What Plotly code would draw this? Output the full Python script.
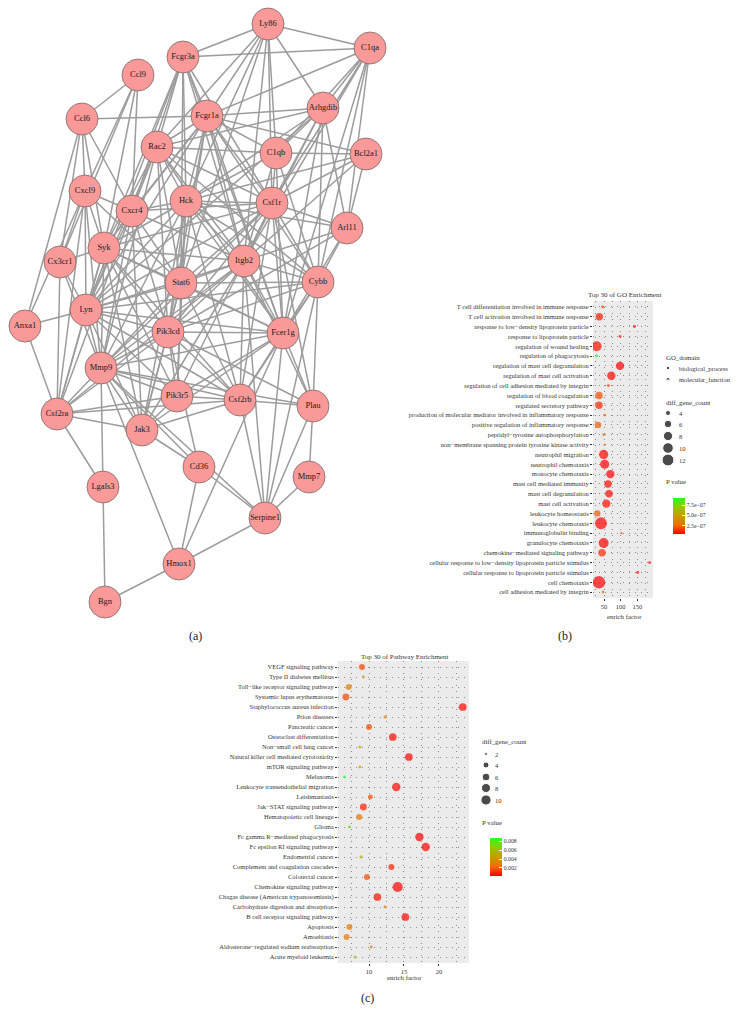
import math
import plotly.graph_objects as go

W, H = 738, 1024
FONT = "Liberation Serif, Times New Roman, serif"

# ---------------- (a) PPI network ----------------
gene_names = ["Ly86", "C1qa", "Fcgr3a", "Ccl9", "Ccl6", "Fcgr1a", "Arhgdib", "Rac2", "C1qb",
              "Bcl2a1", "Cxcl9", "Hck", "Csf1r", "Cxcr4", "Arl11", "Syk", "Cx3cr1", "Itgb2",
              "Stat6", "Cybb", "Lyn", "Anxa1", "Pik3cd", "Fcer1g", "Mmp9", "Pik3r5", "Csf2rb",
              "Plau", "Csf2ra", "Jak3", "Cd36", "Mmp7", "Lgals3", "Serpine1", "Hmox1", "Bgn"]
# layout coordinates of the network drawing (pixels)
gene_layout_x = [268, 370, 183, 138, 82, 207, 323, 157, 276, 366, 85, 186, 272, 132, 347, 104, 60, 244,
                 181, 318, 86, 25, 168, 283, 101, 177, 240, 313, 57, 142, 199, 309, 103, 265, 179, 105]
gene_layout_y = [24, 48, 57, 75, 119, 116, 108, 147, 153, 154, 191, 201, 203, 211, 228, 248, 262, 261,
                 283, 282, 310, 326, 332, 333, 368, 396, 400, 406, 414, 430, 467, 477, 487, 518, 564, 602]

interactions = [
    ("Ly86", "Fcgr3a"), ("Ly86", "C1qa"), ("Ly86", "Fcgr1a"), ("Ly86", "Rac2"), ("Ly86", "Hck"),
    ("Ly86", "C1qb"), ("Ly86", "Csf1r"), ("Ly86", "Itgb2"), ("Ly86", "Arhgdib"), ("Ly86", "Stat6"),
    ("C1qa", "Fcgr3a"), ("C1qa", "Fcgr1a"), ("C1qa", "Arhgdib"), ("C1qa", "C1qb"), ("C1qa", "Csf1r"),
    ("C1qa", "Cybb"), ("C1qa", "Arl11"), ("C1qa", "Itgb2"), ("C1qa", "Fcer1g"),
    ("Fcgr3a", "Fcgr1a"), ("Fcgr3a", "Rac2"), ("Fcgr3a", "Hck"), ("Fcgr3a", "Itgb2"), ("Fcgr3a", "Syk"),
    ("Fcgr3a", "Cxcr4"), ("Fcgr3a", "Csf1r"), ("Fcgr3a", "Fcer1g"), ("Fcgr3a", "Stat6"), ("Fcgr3a", "Lyn"),
    ("Ccl9", "Ccl6"), ("Ccl9", "Cxcl9"), ("Ccl9", "Cxcr4"), ("Ccl9", "Syk"), ("Ccl9", "Cx3cr1"),
    ("Ccl6", "Fcgr1a"), ("Ccl6", "Cxcl9"), ("Ccl6", "Cxcr4"), ("Ccl6", "Cx3cr1"), ("Ccl6", "Anxa1"), ("Ccl6", "Syk"),
    ("Fcgr1a", "Arhgdib"), ("Fcgr1a", "Bcl2a1"), ("Fcgr1a", "Rac2"), ("Fcgr1a", "Hck"), ("Fcgr1a", "Cxcr4"),
    ("Fcgr1a", "Itgb2"), ("Fcgr1a", "Fcer1g"), ("Fcgr1a", "Syk"), ("Fcgr1a", "Csf1r"), ("Fcgr1a", "Cybb"),
    ("Fcgr1a", "Lyn"), ("Fcgr1a", "Pik3cd"), ("Fcgr1a", "Stat6"), ("Fcgr1a", "C1qb"),
    ("Arhgdib", "Rac2"), ("Arhgdib", "C1qb"), ("Arhgdib", "Csf1r"), ("Arhgdib", "Arl11"), ("Arhgdib", "Cybb"),
    ("Arhgdib", "Itgb2"), ("Arhgdib", "Fcer1g"), ("Arhgdib", "Hck"), ("Arhgdib", "Lyn"),
    ("Rac2", "C1qb"), ("Rac2", "Cxcr4"), ("Rac2", "Hck"), ("Rac2", "Csf1r"), ("Rac2", "Itgb2"), ("Rac2", "Cybb"),
    ("Rac2", "Syk"), ("Rac2", "Lyn"), ("Rac2", "Pik3cd"), ("Rac2", "Stat6"), ("Rac2", "Mmp9"), ("Rac2", "Fcer1g"),
    ("C1qb", "Bcl2a1"), ("C1qb", "Hck"), ("C1qb", "Csf1r"), ("C1qb", "Itgb2"), ("C1qb", "Cybb"), ("C1qb", "Fcer1g"),
    ("Bcl2a1", "Hck"), ("Bcl2a1", "Arl11"), ("Bcl2a1", "Itgb2"), ("Bcl2a1", "Csf1r"),
    ("Cxcl9", "Cxcr4"), ("Cxcl9", "Cx3cr1"), ("Cxcl9", "Syk"), ("Cxcl9", "Lyn"), ("Cxcl9", "Anxa1"),
    ("Cxcl9", "Csf2ra"), ("Cxcl9", "Mmp9"), ("Cxcl9", "Stat6"),
    ("Hck", "Csf1r"), ("Hck", "Cxcr4"), ("Hck", "Itgb2"), ("Hck", "Fcer1g"), ("Hck", "Syk"), ("Hck", "Lyn"),
    ("Hck", "Stat6"), ("Hck", "Pik3cd"), ("Hck", "Arl11"), ("Hck", "Cybb"), ("Hck", "Pik3r5"), ("Hck", "Jak3"),
    ("Hck", "Mmp9"), ("Hck", "Csf2rb"),
    ("Csf1r", "Arl11"), ("Csf1r", "Cybb"), ("Csf1r", "Itgb2"), ("Csf1r", "Fcer1g"), ("Csf1r", "Syk"),
    ("Csf1r", "Pik3cd"), ("Csf1r", "Lyn"), ("Csf1r", "Mmp9"), ("Csf1r", "Csf2rb"), ("Csf1r", "Plau"),
    ("Csf1r", "Stat6"), ("Csf1r", "Cxcr4"),
    ("Cxcr4", "Syk"), ("Cxcr4", "Lyn"), ("Cxcr4", "Stat6"), ("Cxcr4", "Pik3cd"), ("Cxcr4", "Mmp9"),
    ("Cxcr4", "Jak3"), ("Cxcr4", "Itgb2"), ("Cxcr4", "Csf2ra"),
    ("Arl11", "Cybb"), ("Arl11", "Itgb2"), ("Arl11", "Fcer1g"), ("Arl11", "Pik3cd"),
    ("Syk", "Lyn"), ("Syk", "Itgb2"), ("Syk", "Stat6"), ("Syk", "Pik3cd"), ("Syk", "Fcer1g"), ("Syk", "Mmp9"),
    ("Syk", "Jak3"), ("Syk", "Pik3r5"), ("Syk", "Cx3cr1"), ("Syk", "Csf2rb"), ("Syk", "Csf2ra"),
    ("Cx3cr1", "Lyn"), ("Cx3cr1", "Mmp9"), ("Cx3cr1", "Csf2ra"),
    ("Itgb2", "Stat6"), ("Itgb2", "Cybb"), ("Itgb2", "Lyn"), ("Itgb2", "Pik3cd"), ("Itgb2", "Fcer1g"),
    ("Itgb2", "Mmp9"), ("Itgb2", "Pik3r5"), ("Itgb2", "Plau"), ("Itgb2", "Serpine1"), ("Itgb2", "Csf2rb"),
    ("Itgb2", "Jak3"), ("Itgb2", "Csf2ra"),
    ("Stat6", "Pik3cd"), ("Stat6", "Lyn"), ("Stat6", "Jak3"), ("Stat6", "Csf2rb"), ("Stat6", "Mmp9"),
    ("Stat6", "Fcer1g"), ("Stat6", "Pik3r5"), ("Stat6", "Cybb"),
    ("Cybb", "Fcer1g"), ("Cybb", "Serpine1"), ("Cybb", "Lyn"), ("Cybb", "Pik3cd"), ("Cybb", "Plau"), ("Cybb", "Csf2rb"),
    ("Lyn", "Pik3cd"), ("Lyn", "Fcer1g"), ("Lyn", "Mmp9"), ("Lyn", "Csf2ra"), ("Lyn", "Jak3"), ("Lyn", "Pik3r5"),
    ("Lyn", "Csf2rb"), ("Lyn", "Anxa1"),
    ("Anxa1", "Csf2ra"),
    ("Pik3cd", "Fcer1g"), ("Pik3cd", "Mmp9"), ("Pik3cd", "Pik3r5"), ("Pik3cd", "Jak3"), ("Pik3cd", "Csf2rb"),
    ("Pik3cd", "Csf2ra"), ("Pik3cd", "Plau"), ("Pik3cd", "Cd36"),
    ("Fcer1g", "Pik3r5"), ("Fcer1g", "Csf2rb"), ("Fcer1g", "Plau"), ("Fcer1g", "Serpine1"), ("Fcer1g", "Hmox1"),
    ("Fcer1g", "Mmp9"), ("Fcer1g", "Jak3"),
    ("Mmp9", "Csf2ra"), ("Mmp9", "Pik3r5"), ("Mmp9", "Jak3"), ("Mmp9", "Lgals3"), ("Mmp9", "Cd36"),
    ("Mmp9", "Serpine1"), ("Mmp9", "Hmox1"), ("Mmp9", "Plau"), ("Mmp9", "Csf2rb"),
    ("Pik3r5", "Csf2rb"), ("Pik3r5", "Jak3"), ("Pik3r5", "Csf2ra"),
    ("Csf2rb", "Csf2ra"), ("Csf2rb", "Jak3"), ("Csf2rb", "Plau"), ("Csf2rb", "Serpine1"),
    ("Plau", "Mmp7"), ("Plau", "Serpine1"),
    ("Csf2ra", "Jak3"), ("Csf2ra", "Lgals3"),
    ("Jak3", "Cd36"),
    ("Cd36", "Serpine1"), ("Cd36", "Hmox1"),
    ("Mmp7", "Serpine1"),
    ("Lgals3", "Bgn"),
    ("Serpine1", "Hmox1"),
    ("Hmox1", "Bgn"),
]

# ---------------- (b) GO enrichment ----------------
go_terms = [
    "T cell differentiation involved in immune response",
    "T cell activation involved in immune response",
    "response to low−density lipoprotein particle",
    "response to lipoprotein particle",
    "regulation of wound healing",
    "regulation of phagocytosis",
    "regulation of mast cell degranulation",
    "regulation of mast cell activation",
    "regulation of cell adhesion mediated by integrin",
    "regulation of blood coagulation",
    "regulated secretory pathway",
    "production of molecular mediator involved in inflammatory response",
    "positive regulation of inflammatory response",
    "peptidyl−tyrosine autophosphorylation",
    "non−membrane spanning protein tyrosine kinase activity",
    "neutrophil migration",
    "neutrophil chemotaxis",
    "monocyte chemotaxis",
    "mast cell mediated immunity",
    "mast cell degranulation",
    "mast cell activation",
    "leukocyte homeostasis",
    "leukocyte chemotaxis",
    "immunoglobulin binding",
    "granulocyte chemotaxis",
    "chemokine−mediated signaling pathway",
    "cellular response to low−density lipoprotein particle stimulus",
    "cellular response to lipoprotein particle stimulus",
    "cell chemotaxis",
    "cell adhesion mediated by integrin",
]
go_enrich = [46, 36, 141, 98, 28, 28, 98, 72, 63, 35, 35, 52, 32, 49, 52,
             49, 52, 69, 62, 65, 57, 30, 41, 102, 49, 44, 187, 151, 35, 47]
go_count = [3, 6, 3, 3, 9, 3, 7, 7, 3, 6, 6, 3, 5, 3, 3,
            8, 8, 7, 6, 6, 7, 5, 12, 3, 9, 6, 3, 3, 13, 3]
go_pvalue = [1.5e-7, 1.0e-7, 6e-8, 8e-8, 8e-8, 9.2e-7, 5e-8, 6e-8, 1.5e-7, 2.0e-7, 1.2e-7, 2.6e-7, 2.2e-7,
             2.8e-7, 2.8e-7, 6e-8, 5e-8, 5e-8, 7e-8, 7e-8, 8e-8, 2.2e-7, 5e-8, 1.2e-7, 5e-8, 1.3e-7,
             6e-8, 8e-8, 5e-8, 2.4e-7]
go_domain = ["biological_process"] * 14 + ["molecular_function"] + ["biological_process"] * 8 + \
            ["molecular_function"] + ["biological_process"] * 6
go_size_legend = [4, 6, 8, 10, 12]
go_p_ticks = [2.5e-7, 5.0e-7, 7.5e-7]
go_p_ticktext = ["2.5e−07", "5.0e−07", "7.5e−07"]
go_x_ticks = [50, 100, 150]

# ---------------- (c) Pathway enrichment ----------------
kegg_terms = [
    "VEGF signaling pathway", "Type II diabetes mellitus", "Toll−like receptor signaling pathway",
    "Systemic lupus erythematosus", "Staphylococcus aureus infection", "Prion diseases",
    "Pancreatic cancer", "Osteoclast differentiation", "Non−small cell lung cancer",
    "Natural killer cell mediated cytotoxicity", "mTOR signaling pathway", "Melanoma",
    "Leukocyte transendothelial migration", "Leishmaniasis", "Jak−STAT signaling pathway",
    "Hematopoietic cell lineage", "Glioma", "Fc gamma R−mediated phagocytosis",
    "Fc epsilon RI signaling pathway", "Endometrial cancer", "Complement and coagulation cascades",
    "Colorectal cancer", "Chemokine signaling pathway", "Chagas disease (American trypanosomiasis)",
    "Carbohydrate digestion and absorption", "B cell receptor signaling pathway", "Apoptosis",
    "Amoebiasis", "Aldosterone−regulated sodium reabsorption", "Acute myeloid leukemia",
]
kegg_enrich = [9.0, 9.2, 7.1, 6.7, 23.4, 12.3, 10.0, 13.4, 8.7, 15.7, 8.7, 6.5, 13.9, 10.2, 9.2,
               8.6, 7.2, 17.2, 18.1, 8.86, 13.2, 9.7, 14.1, 11.2, 12.3, 15.2, 7.2, 6.8, 10.3, 8.0]
kegg_count = [4, 2, 4, 5, 6, 2, 4, 6, 2, 6, 2, 2, 7, 3, 5,
              4, 2, 7, 7, 2, 4, 4, 10, 6, 2, 6, 4, 4, 2, 2]
kegg_pvalue = [0.0015, 0.0045, 0.003, 0.0016, 0.0003, 0.0028, 0.0016, 0.0004, 0.0048, 0.0003, 0.0048,
               0.0087, 0.0003, 0.0016, 0.0008, 0.0025, 0.0072, 0.0002, 0.0002, 0.005, 0.0008, 0.0016,
               0.0002, 0.0005, 0.0026, 0.0003, 0.0028, 0.0025, 0.0026, 0.006]
kegg_size_legend = [2, 4, 6, 8, 10]
kegg_p_ticks = [0.002, 0.004, 0.006, 0.008]
kegg_x_ticks = [10, 15, 20]

P_SCALE = [[0, "#FF0000"], [0.25, "#EA7000"], [0.5, "#C99A00"], [0.75, "#94C800"], [1, "#22FF22"]]
TXT = "#333333"
PANEL_BG = "#EBEBEB"


def size_px(counts, lo, hi, factor, base):
    return [base + factor * math.sqrt(1 + (c - lo) / (hi - lo) * 35) for c in counts]


GO_SZ = dict(factor=1.9, base=1.0)
K_SZ = dict(factor=1.45, base=1.5)

fig = go.Figure()

# ---- network edges & nodes (pixel axis x/y) ----
pos = {g: (x, y) for g, x, y in zip(gene_names, gene_layout_x, gene_layout_y)}
ex, ey = [], []
for a, b in interactions:
    ex += [pos[a][0], pos[b][0], None]
    ey += [pos[a][1], pos[b][1], None]
fig.add_trace(go.Scatter(x=ex, y=ey, mode="lines", line=dict(color="#9C9C9C", width=1.5),
                         hoverinfo="skip", showlegend=False, xaxis="x", yaxis="y"))
fig.add_trace(go.Scatter(x=gene_layout_x, y=gene_layout_y, mode="markers+text", text=gene_names,
                         textposition="middle center",
                         textfont=dict(family=FONT, size=8.5, color="#1a1a1a"),
                         marker=dict(size=32, color="#F99A99", line=dict(color="#7A6868", width=0.8)),
                         hoverinfo="text", showlegend=False, xaxis="x", yaxis="y"))

# ---- (b) GO dots ----
go_lo, go_hi = min(go_count), max(go_count)
fig.add_trace(go.Scatter(
    x=go_enrich, y=go_terms, mode="markers", xaxis="x2", yaxis="y2", showlegend=False,
    marker=dict(size=size_px(go_count, go_lo, go_hi, **GO_SZ),
                symbol=["circle" if d == "biological_process" else "triangle-up" for d in go_domain],
                color=go_pvalue, colorscale=P_SCALE, cmin=min(go_pvalue), cmax=max(go_pvalue),
                line=dict(width=0),
                colorbar=dict(x=663 / W, xanchor="left", y=1 - 516 / H, yanchor="middle",
                              len=56, lenmode="pixels", thickness=12, outlinewidth=0,
                              tickvals=go_p_ticks, ticktext=go_p_ticktext, ticks="inside",
                              tickcolor="white", ticklen=3,
                              tickfont=dict(family=FONT, size=5.8, color=TXT))),
))

# ---- (c) pathway dots ----
k_lo, k_hi = min(kegg_count), max(kegg_count)
fig.add_trace(go.Scatter(
    x=kegg_enrich, y=kegg_terms, mode="markers", xaxis="x3", yaxis="y3", showlegend=False,
    marker=dict(size=size_px(kegg_count, k_lo, k_hi, **K_SZ),
                color=kegg_pvalue, colorscale=P_SCALE, cmin=min(kegg_pvalue), cmax=max(kegg_pvalue),
                line=dict(width=0),
                colorbar=dict(x=480 / W, xanchor="left", y=1 - 857 / H, yanchor="middle",
                              len=58, lenmode="pixels", thickness=12, outlinewidth=0,
                              tickvals=kegg_p_ticks, ticks="inside", tickcolor="white", ticklen=3,
                              tickformat=".3f",
                              tickfont=dict(family=FONT, size=5.8, color=TXT))),
))

# ---- legends (drawn on pixel axis) ----
go_leg_y = [413, 424, 436, 448, 460]
fig.add_trace(go.Scatter(x=[668] * 5, y=go_leg_y, mode="markers", xaxis="x", yaxis="y",
                         marker=dict(size=size_px(go_size_legend, go_lo, go_hi, **GO_SZ), color="black"),
                         hoverinfo="skip", showlegend=False))
fig.add_trace(go.Scatter(x=[668, 668], y=[368, 379], mode="markers", xaxis="x", yaxis="y",
                         marker=dict(size=[3.5, 4.5], symbol=["circle", "triangle-up"], color="black"),
                         hoverinfo="skip", showlegend=False))
k_leg_y = [754, 765, 777, 788, 800]
fig.add_trace(go.Scatter(x=[486] * 5, y=k_leg_y, mode="markers", xaxis="x", yaxis="y",
                         marker=dict(size=size_px(kegg_size_legend, k_lo, k_hi, **K_SZ), color="black"),
                         hoverinfo="skip", showlegend=False))

annotations = []


def ann(x, y, text, size=6.5, xanchor="left", color=TXT):
    annotations.append(dict(x=x, y=y, xref="x", yref="y", text=text, showarrow=False,
                            xanchor=xanchor, yanchor="middle",
                            font=dict(family=FONT, size=size, color=color)))


ann(664, 357, "GO_domain", 6.8)
ann(677, 368, "biological_process")
ann(677, 379, "molecular_function")
ann(664, 402, "diff_gene_count", 6.8)
for v, yy in zip(go_size_legend, go_leg_y):
    ann(677, yy, str(v))
ann(664, 481, "P value", 6.8)
ann(480, 741, "diff_gene_count", 6.8)
for v, yy in zip(kegg_size_legend, k_leg_y):
    ann(493, yy, str(v))
ann(480, 822, "P value", 6.8)

ann(624, 295, "Top 30 of GO Enrichment", 7, "center")
ann(624, 616, "enrich factor", 6.8, "center")
ann(404, 657, "Top 30 of Pathway Enrichment", 7, "center")
ann(404, 977, "enrich factor", 6.8, "center")
ann(195, 636, "(a)", 12, "center", "#222")
ann(565, 636, "(b)", 12, "center", "#222")
ann(367, 998, "(c)", 12, "center", "#222")

grid = dict(showgrid=True, gridcolor="#8C8C8C", griddash="1px,5px", gridwidth=1)
tick_common = dict(ticks="outside", ticklen=2, tickcolor="#333", tickwidth=0.8,
                   tickfont=dict(family=FONT, size=6.5, color=TXT), zeroline=False,
                   showline=False, fixedrange=True)

fig.update_layout(
    width=W, height=H, margin=dict(l=0, r=0, t=0, b=0),
    paper_bgcolor="white", plot_bgcolor="rgba(0,0,0,0)",
    xaxis=dict(domain=[0, 1], range=[0, W], visible=False, fixedrange=True),
    yaxis=dict(domain=[0, 1], range=[H, 0], visible=False, fixedrange=True),
    xaxis2=dict(domain=[593 / W, 653 / W], range=[17, 197], anchor="y2", tickvals=go_x_ticks,
                minor=dict(dtick=25, showgrid=True, gridcolor="#8C8C8C", griddash="1px,5px", ticks=""),
                **grid, **tick_common),
    yaxis2=dict(domain=[1 - 598 / H, 1 - 301 / H], anchor="x2", type="category",
                categoryorder="array", categoryarray=list(reversed(go_terms)),
                range=[-0.6, len(go_terms) - 0.4], **grid, **tick_common),
    xaxis3=dict(domain=[338 / W, 469 / W], range=[5.57, 24.29], anchor="y3", tickvals=kegg_x_ticks,
                minor=dict(dtick=2.5, showgrid=True, gridcolor="#8C8C8C", griddash="1px,5px", ticks=""),
                **grid, **tick_common),
    yaxis3=dict(domain=[1 - 963 / H, 1 - 661 / H], anchor="x3", type="category",
                categoryorder="array", categoryarray=list(reversed(kegg_terms)),
                range=[-0.6, len(kegg_terms) - 0.4], **grid, **tick_common),
    shapes=[
        dict(type="rect", xref="x2 domain", yref="y2 domain", x0=0, x1=1, y0=0, y1=1,
             fillcolor=PANEL_BG, line=dict(width=0), layer="below"),
        dict(type="rect", xref="x3 domain", yref="y3 domain", x0=0, x1=1, y0=0, y1=1,
             fillcolor=PANEL_BG, line=dict(width=0), layer="below"),
    ],
    annotations=annotations,
    hovermode="closest",
)

fig.write_html("out.html", config={"displayModeBar": False},
               post_script="document.body.style.margin='0';document.body.style.overflow='hidden';")
